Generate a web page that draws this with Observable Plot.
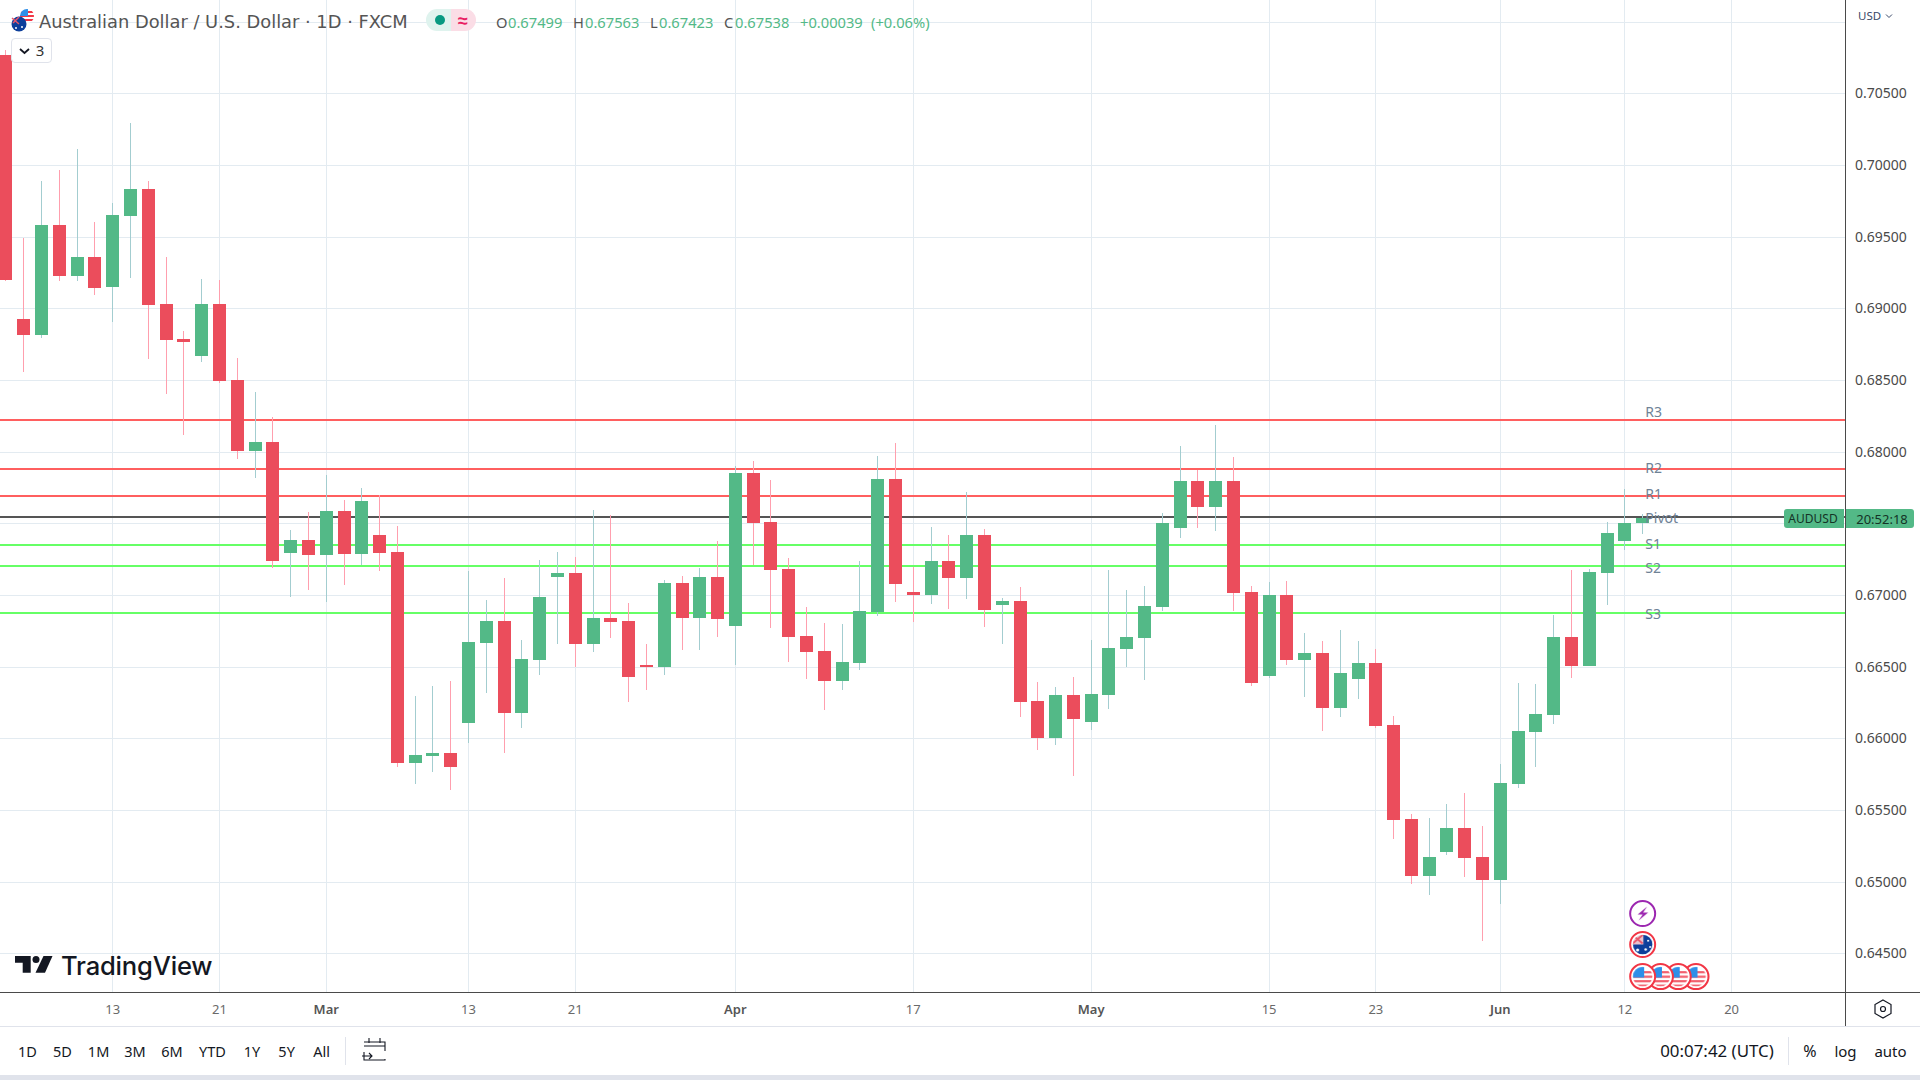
<!DOCTYPE html>
<html><head><meta charset="utf-8">
<script src="https://cdn.jsdelivr.net/npm/d3@7"></script>
<script src="https://cdn.jsdelivr.net/npm/@observablehq/plot@0.6"></script>
<style>
html,body{margin:0;padding:0;background:#fff;overflow:hidden;width:1920px;height:1080px;font-family:"Noto Sans",sans-serif}
#root{position:relative;width:1920px;height:1080px;overflow:hidden}
#root svg.plot{position:absolute;left:0;top:0}
.t{position:absolute;white-space:nowrap;transform:translateY(-50%);line-height:1}
.c{transform:translate(-50%,-50%)}
.b{position:absolute}
</style></head><body><div id="root"></div>
<script>
// Daily candles, oldest first (price)
const opens=[.70767,.68925,.68814,.69581,.69225,.69358,.69149,.69644,.69832,.69030,.68786,.68667,.69030,.68500,.68004,.68067,.67293,.67383,.67279,.67586,.67286,.67418,.67300,.65827,.65876,.65897,.66107,.66665,.66818,.66176,.66546,.67125,.67153,.66658,.66839,.66818,.66511,.66497,.67083,.66839,.67125,.66784,.67851,.67509,.67181,.66714,.66609,.66400,.66525,.66881,.67809,.67021,.67000,.67237,.67118,.67418,.66930,.66958,.66260,.66002,.66302,.66114,.66302,.66623,.66700,.66916,.67467,.67795,.67614,.67795,.67021,.66435,.67000,.66546,.66595,.66211,.66414,.66525,.66093,.65437,.65039,.65207,.65374,.65172,.65011,.65681,.66044,.66162,.66707,.66504,.67153,.67376,.67499];
const closes=[.69197,.68814,.69581,.69225,.69358,.69142,.69651,.69832,.69023,.68779,.68765,.69030,.68493,.68004,.68067,.67237,.67383,.67279,.67586,.67286,.67656,.67293,.65827,.65883,.65897,.65799,.66672,.66818,.66176,.66553,.66986,.67153,.66658,.66839,.66811,.66428,.66497,.67083,.66839,.67125,.66832,.67851,.67502,.67174,.66707,.66602,.66400,.66532,.66888,.67809,.67076,.67000,.67237,.67118,.67418,.66895,.66958,.66253,.66002,.66302,.66134,.66309,.66630,.66707,.66923,.67502,.67795,.67614,.67795,.67014,.66386,.67000,.66546,.66595,.66211,.66455,.66525,.66086,.65430,.65039,.65172,.65374,.65165,.65011,.65688,.66051,.66169,.66707,.66504,.67160,.67432,.67502,.67538];
const highs=[.70802,.69490,.69888,.69965,.70111,.69602,.69735,.70293,.69888,.69358,.68842,.69204,.69197,.68653,.68416,.68242,.67453,.67579,.67837,.67662,.67746,.67697,.67481,.66295,.66365,.66400,.67167,.66965,.67118,.66686,.67244,.67300,.67265,.67593,.67558,.66944,.66658,.67104,.67132,.67188,.67376,.67900,.67935,.67802,.67258,.66916,.66805,.66798,.67237,.67969,.68060,.67195,.67474,.67418,.67718,.67460,.66979,.67055,.66393,.66358,.66428,.66686,.67174,.67035,.67062,.67572,.68039,.67872,.68186,.67962,.67062,.67090,.67097,.66735,.66679,.66756,.66679,.66623,.66155,.65472,.65444,.65542,.65618,.65388,.65820,.66386,.66379,.66860,.67174,.67181,.67509,.67739,.67563];
const lows=[.69190,.68556,.68793,.69190,.69190,.69093,.68904,.69211,.68646,.68402,.68116,.68625,.68479,.67949,.67816,.67188,.66986,.67035,.66951,.67069,.67209,.67167,.65799,.65681,.65765,.65639,.65967,.66316,.65897,.66072,.66442,.66658,.66497,.66602,.66700,.66253,.66337,.66442,.66616,.66616,.66707,.66511,.67209,.66770,.66532,.66414,.66197,.66337,.66476,.66853,.66951,.66811,.66937,.66902,.66972,.66777,.66658,.66148,.65918,.65953,.65737,.66058,.66204,.66497,.66407,.66888,.67397,.67467,.67446,.66888,.66365,.66421,.66511,.66288,.66051,.66148,.66274,.66072,.65297,.64983,.64907,.65186,.65032,.64586,.64844,.65653,.65799,.66100,.66421,.66504,.66930,.67314,.67423];
const levelNames=["R3","R2","R1","Pivot","S1","S2","S3"];
const levelValues=[.68221,.67879,.67690,.67544,.67349,.67202,.66874];
const levelLabelValues=[.68277,.67888,.67707,.67539,.67358,.67190,.66870];
const levelColors=["#ff5f5f","#ff5f5f","#ff5f5f","#555555","#66ff66","#66ff66","#66ff66"];
const priceTicks=[.705,.70,.695,.69,.685,.68,.67,.665,.66,.655,.65,.645];
const gridPrices=[.71,.705,.70,.695,.69,.685,.68,.675,.67,.665,.66,.655,.65,.645];
const dayTickIdx=[6,12,26,32,51,71,77,91,97];
const dayTickLab=["13","21","13","21","17","15","23","12","20"];
const monthTickIdx=[18,41,61,84];
const monthTickLab=["Mar","Apr","May","Jun"];
const eventIdx=[92,92,95,94,93,92];
const eventPrice=[.64781,.64565,.64341,.64341,.64341,.64341];
const eventKind=["bolt","au","us","us","us","us"];

const GREEN="#53b987",RED="#eb4d5c",WICKG="#a3cdd0",WICKR="#ff9fae",GRID="#e3ebf1";
const FONT='"Noto Sans",sans-serif';
const crisp={shapeRendering:"crispEdges"};
const candles=opens.map((o,i)=>({i,o,c:closes[i],h:highs[i],l:lows[i],up:closes[i]>=o}));
const levels=levelNames.map((n,k)=>({n,v:levelValues[k],lv:levelLabelValues[k],col:levelColors[k]}));
const events=eventIdx.map((i,k)=>({i,p:eventPrice[k],kind:eventKind[k]}));
const fmtDay=i=>dayTickLab[dayTickIdx.indexOf(i)], fmtMon=i=>monthTickLab[monthTickIdx.indexOf(i)];

const chart=Plot.plot({
  width:1920,height:1080,marginLeft:0,marginTop:0,marginRight:74.5,marginBottom:87.7,
  style:{fontFamily:FONT,background:"#fff",overflow:"hidden"},
  x:{type:"linear",domain:[-0.309,103.43]},
  y:{type:"linear",domain:[.64228,.71151]},
  marks:[
    Plot.gridY(gridPrices,{stroke:GRID,strokeOpacity:1,strokeWidth:1,...crisp}),
    Plot.gridX(dayTickIdx.concat(monthTickIdx),{stroke:GRID,strokeOpacity:1,strokeWidth:1,...crisp}),
    Plot.ruleY(levels,{y:"v",stroke:"col",strokeWidth:2,dy:-0.5,...crisp}),
    Plot.ruleX(candles,{x:"i",y1:"l",y2:"h",strokeWidth:1,stroke:d=>d.up?WICKG:WICKR,...crisp}),
    Plot.ruleX(candles,{x:"i",y1:"o",y2:"c",strokeWidth:13,stroke:d=>d.up?GREEN:RED,...crisp}),
    Plot.text(levels,{x:92.15,y:"lv",text:"n",textAnchor:"start",fill:"#6f8296",fontSize:14}),
    Plot.axisY(priceTicks,{anchor:"right",tickSize:0,tickPadding:9,tickFormat:d3.format(".5f"),fontSize:14,fill:"#4a4a4a",label:null}),
    Plot.axisX(dayTickIdx,{anchor:"bottom",tickSize:0,tickPadding:12,tickFormat:fmtDay,fontSize:13,fill:"#6a6a6a",label:null}),
    Plot.axisX(monthTickIdx,{anchor:"bottom",tickSize:0,tickPadding:12,tickFormat:fmtMon,fontSize:13,fontWeight:600,fill:"#555",label:null}),
    Plot.dot(events,{x:"i",y:"p",r:12.5,strokeWidth:2,stroke:d=>d.kind==="bolt"?"#9c27b0":"#f23645",fill:d=>`url(#ev-${d.kind})`})
  ]
});
const root=document.getElementById("root");
root.appendChild(chart);

function txt(s,x,y,css,center){const e=document.createElement("div");e.className="t"+(center?" c":"");e.textContent=s;e.style.left=x+"px";e.style.top=y+"px";e.style.cssText+=";"+(css||"");root.appendChild(e);return e;}
function box(x,y,w,h,css){const e=document.createElement("div");e.className="b";e.style.cssText=`left:${x}px;top:${y}px;width:${w}px;height:${h}px;${css||""}`;root.appendChild(e);return e;}

// chrome frame
box(1845,0,1,1026,"background:#4a4a4a");
box(0,992,1920,1,"background:#4a4a4a");
box(0,1026,1920,1,"background:#e0e3eb");
box(0,1075,1920,5,"background:#e0e3eb");

// header
txt("Australian Dollar / U.S. Dollar · 1D · FXCM",39,22,'font-family:"DejaVu Sans";font-size:17.85px;color:#555');
box(426,9,25,22,"background:#dff3ee;border-radius:11px 0 0 11px");
box(451,9,25,22,"background:#fbdde6;border-radius:0 11px 11px 0");
box(435,15,10,10,"background:#089981;border-radius:50%");
txt("≈",463,20,"font-size:18px;color:#e91e63;font-weight:700",true);
box(11,38,39,23,"border:1px solid #e0e3eb;border-radius:4px;background:#fff");
txt("3",40,50,"font-size:15px;color:#333",true);
const G="color:#53b987;font-size:14.7px", D="color:#555;font-size:14.7px";
[["O",496,D],["0.67499",508,G],["H",573,D],["0.67563",585,G],["L",650,D],["0.67423",659,G],["C",724,D],["0.67538",735,G],["+0.00039",800,G],["(+0.06%)",871,G]].forEach(a=>txt(a[0],a[1],22,a[2]));
txt("USD",1858,16,"font-size:11.5px;color:#3a4a6a");

// price tag
box(1784,509,60,19,"background:#53b987;border-radius:3px 0 0 3px");
box(1846,509,68,19,"background:#53b987;border-radius:0 3px 3px 0");
txt("AUDUSD",1813,519,"font-size:12px;color:#143326",true);
txt("20:52:18",1882,519,"font-size:13px;color:#143326",true);

// watermark
txt("TradingView",61,966,"font-family:Inter;font-size:25.6px;font-weight:500;color:#131722;letter-spacing:-.2px");

// bottom bar
[["1D",27.5],["5D",62.5],["1M",98.6],["3M",135],["6M",172],["YTD",212.5],["1Y",252],["5Y",286.6],["All",321.5]].forEach(a=>txt(a[0],a[1],1051,"font-size:14.5px;color:#131722",true));
box(345,1037,1,28,"background:#e0e3eb");
box(1788,1037,1,28,"background:#e0e3eb");
txt("00:07:42 (UTC)",1717,1051,"font-size:16.9px;color:#131722",true);
txt("%",1810,1051,"font-size:16px;color:#131722",true);
txt("log",1845.5,1051,"font-size:15px;color:#131722",true);
txt("auto",1890.5,1051,"font-size:15px;color:#131722",true);

// icons and flag fills
const ns="http://www.w3.org/2000/svg";
const over=document.createElementNS(ns,"svg");
over.setAttribute("width",1920);over.setAttribute("height",1080);over.style.cssText="position:absolute;left:0;top:0;pointer-events:none";
const usStripes=[.28,.46,.64,.82].map(y=>`<rect x="0" y="${y}" width="1" height=".09" fill="#f2606e"/>`).join("");
const gap=`<circle cx=".5" cy=".5" r=".44" fill="none" stroke="#fff" stroke-width=".1"/>`;
over.innerHTML=`<defs>
<pattern id="ev-us" width="1" height="1" patternContentUnits="objectBoundingBox"><rect width="1" height="1" fill="#fff"/>${usStripes}<rect x=".08" y=".1" width=".48" height=".44" fill="#2e8fe8"/>${gap}</pattern>
<pattern id="ev-au" width="1" height="1" patternContentUnits="objectBoundingBox"><rect width="1" height="1" fill="#0d3f9b"/><rect x=".05" y=".08" width=".48" height=".42" fill="#e9c2cd"/><path d="M.1 .12 L.5 .46 M.5 .12 L.1 .46" stroke="#e8566b" stroke-width=".07"/><circle cx=".72" cy=".35" r=".04" fill="#fff"/><circle cx=".62" cy=".7" r=".05" fill="#fff"/><circle cx=".8" cy=".6" r=".04" fill="#fff"/><circle cx=".3" cy=".72" r=".06" fill="#fff"/>${gap}</pattern>
<pattern id="ev-bolt" width="1" height="1" patternContentUnits="objectBoundingBox"><rect width="1" height="1" fill="#fff"/><path d="M.68 .22 L.3 .54 H.5 L.34 .78 L.72 .46 H.52 Z" fill="#9c27b0"/></pattern>
<clipPath id="hu"><circle cx="27" cy="16" r="7"/></clipPath>
</defs>
<g clip-path="url(#hu)"><rect x="18" y="8" width="18" height="16" fill="#fff"/><rect x="18" y="11" width="18" height="2" fill="#f23645"/><rect x="18" y="15" width="18" height="2" fill="#f23645"/><rect x="18" y="19" width="18" height="2" fill="#f23645"/><rect x="20" y="9" width="8" height="7" fill="#2e8fe8"/></g>
<circle cx="19" cy="24" r="7.5" fill="#0d3f9b"/><path d="M12 18 L19 24 M19 17 L13 23" stroke="#e8566b" stroke-width="1.5"/>
<circle cx="22" cy="27" r="1" fill="#fff"/><circle cx="16" cy="28" r="1" fill="#fff"/>
<path d="M20 49 L24.5 53 L29 49" fill="none" stroke="#131722" stroke-width="1.8"/>
<path d="M15 956 H30.7 V972.7 H22.7 V962.7 H15 Z" fill="#131722"/><circle cx="36" cy="959.5" r="3.5" fill="#131722"/>
<path d="M43.5 956 H52.5 L45 972.7 H35.5 Z" fill="#131722"/>
<path d="M1886 14.5 L1889 17.5 L1892 14.5" fill="none" stroke="#3a4a6a" stroke-width="1"/>
<path d="M1883 1000 L1891 1004.5 V1013.5 L1883 1018 L1875 1013.5 V1004.5 Z" fill="none" stroke="#131722" stroke-width="1.2"/><circle cx="1883" cy="1009" r="2.5" fill="none" stroke="#131722" stroke-width="1.2"/>
<rect x="364" y="1042" width="21" height="18" fill="none" stroke="#131722" stroke-width="1.1" stroke-dasharray="30 8 30"/>
<path d="M364 1046 H385 M369 1038 V1043 M380 1038 V1043 M362 1056 H372 M369 1053 L372 1056 L369 1059" fill="none" stroke="#131722" stroke-width="1.1"/>`;
root.appendChild(over);
</script></body></html>
